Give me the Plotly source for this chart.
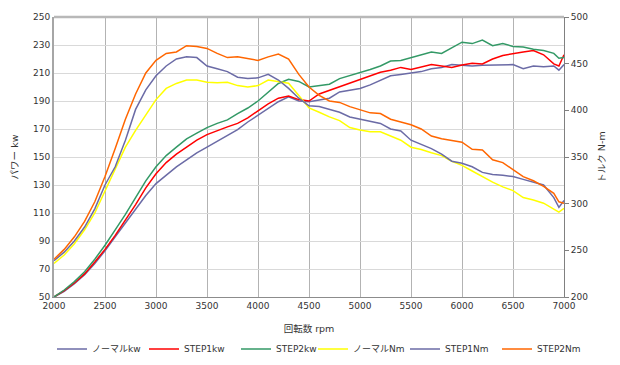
import plotly.graph_objects as go

rpm = [2000, 2100, 2200, 2300, 2400, 2500, 2600, 2700, 2800, 2900,
       3000, 3100, 3200, 3300, 3400, 3500, 3600, 3700, 3800, 3900,
       4000, 4100, 4200, 4300, 4400, 4500, 4600, 4700, 4800, 4900,
       5000, 5100, 5200, 5300, 5400, 5500, 5600, 5700, 5800, 5900,
       6000, 6100, 6200, 6300, 6400, 6500, 6600, 6700, 6800, 6900,
       6950, 7000]

normal_kw = [50, 54, 59.5, 66, 74, 83, 93, 103, 113, 122.5,
             131, 137, 143, 148, 153, 157, 161, 165, 169.5, 175,
             180, 185, 189.5, 193, 190, 189.5, 190.5, 192, 196.5, 198,
             199, 201.5, 205, 208, 209, 210, 211, 213, 214, 216,
             215.5, 215, 215.5, 215.5, 215.7, 216, 213, 215, 214.5, 215,
             212, 216]

step1_kw = [50, 54.5, 60, 66.5, 75, 84, 94, 105, 116, 128,
            138, 146, 152, 157, 162, 166, 169, 171.5, 174, 178,
            183, 188, 192, 193.5, 191, 190, 195, 197.5, 200, 203,
            205, 208, 210.5, 212, 214, 212.5, 214.5, 216, 215, 214,
            215.7, 217, 216.5, 220, 222.5, 224, 225, 226, 223, 216.5,
            215, 223]

step2_kw = [50, 55, 61, 68, 77, 87, 98, 109, 121, 133,
            143, 151, 157, 163, 167, 171, 174, 176.5, 181, 185,
            190, 196, 202.5, 205.5, 204, 200, 201, 202, 206, 208,
            210, 212.5, 215, 218.5, 219, 221, 223, 225, 224, 228,
            232, 231, 233.5, 229.5, 231, 229, 228.5, 227, 226, 224,
            220.5, 221]

normal_nm = [236, 245, 257, 272, 290, 314, 338, 360.5, 378.5, 395,
             411.5, 423.5, 428.8, 432.5, 432.5, 430, 429.5, 430, 426.5, 425,
             426.5, 432.5, 431, 429, 416, 402.5, 398, 393, 389, 381.5,
             379, 377, 377, 372.5, 368, 360.5, 358, 354.5, 351.5, 345.5,
             341, 335, 329, 323, 318, 314, 306.5, 304, 300.5, 294.5,
             291, 295]

step1_nm = [239, 248, 260, 275, 294.5, 320, 339.5, 368, 401, 422,
            437, 447.5, 455, 457.3, 456.5, 447.5, 444.5, 441.5, 435.5, 434,
            434.8, 438.5, 432.5, 423.5, 413, 404.8, 404, 401, 398, 392.8,
            390.5, 388.3, 386, 380, 377.8, 368, 363.5, 359, 353, 345.5,
            343.3, 339.5, 333.5, 331.3, 330.5, 329, 326, 323, 320, 306.5,
            296, 303.5]

step2_nm = [240.5, 251, 264.5, 281, 302, 329, 359, 390.5, 417.5, 440,
            453.5, 461, 462.5, 469.3, 468.5, 466.3, 461, 456.5, 457.3, 455,
            453.5, 457.3, 460.3, 455, 438.5, 425, 416, 410, 408.5, 404,
            401, 397.3, 396.5, 390.5, 387.5, 384.5, 380, 372.5, 369.5, 368,
            365.8, 358.3, 357.5, 347, 344, 336.5, 329, 324.5, 318.5, 311,
            302, 300.5]

series = [
    ("ノーマルkw", normal_kw, "y", "#6b6ba6", "legend"),
    ("STEP1kw", step1_kw, "y", "#ff0000", "legend"),
    ("STEP2kw", step2_kw, "y", "#339966", "legend"),
    ("ノーマルNm", normal_nm, "y2", "#ffff00", "legend2"),
    ("STEP1Nm", step1_nm, "y2", "#6b6ba6", "legend2"),
    ("STEP2Nm", step2_nm, "y2", "#ff6600", "legend2"),
]

FONT = "DejaVu Sans, Verdana, Noto Sans CJK JP, sans-serif"

fig = go.Figure()
for name, vals, ax, col, lg in series:
    fig.add_trace(go.Scatter(x=rpm, y=vals, name=name, yaxis=ax, mode="lines",
                             legend=lg, line=dict(color=col, width=1.5)))

legend_common = dict(orientation="h", xref="container", yref="container",
                     xanchor="left", y=0.044, yanchor="middle",
                     font=dict(size=9), itemwidth=30, tracegroupgap=0,
                     entrywidth=47, entrywidthmode="pixels",
                     bgcolor="rgba(0,0,0,0)")

fig.update_layout(
    width=620, height=365,
    margin=dict(l=54, r=56, t=17, b=68, autoexpand=False),
    paper_bgcolor="white", plot_bgcolor="white",
    font=dict(family=FONT, size=9, color="#333333"),
    xaxis=dict(range=[2000, 7000], dtick=500, tick0=2000, automargin=False,
               showgrid=True, gridcolor="#b3b3b3", gridwidth=1,
               showline=True, linecolor="#8c8c8c", linewidth=1,
               ticks="", zeroline=False,
               title=dict(text="回転数 rpm", font=dict(size=9.5), standoff=17)),
    yaxis=dict(range=[50, 250], dtick=20, tick0=50, automargin=False,
               showgrid=True, gridcolor="#d9d9d9", gridwidth=1,
               showline=True, linecolor="#a6a6a6", linewidth=2,
               ticks="", zeroline=False,
               title=dict(text="パワー kw", font=dict(size=9.5), standoff=13)),
    yaxis2=dict(range=[200, 500], dtick=50, tick0=200, overlaying="y", side="right",
                automargin=False,
                showgrid=False, showline=True, linecolor="#808080", linewidth=1,
                ticks="outside", ticklen=4, tickcolor="#808080", zeroline=False,
                title=dict(text="トルク N-m", font=dict(size=9.5), standoff=11)),
    legend=dict(legend_common, x=52 / 620),
    legend2=dict(legend_common, x=(52 + 3 * 87) / 620),
    shapes=[dict(type="line", xref="paper", yref="paper", x0=0, x1=1, y0=1, y1=1,
                 line=dict(color="#b8b8b8", width=2.5), layer="above")],
    showlegend=True,
)

fig.write_html("out.html", config={"displayModeBar": False},
               post_script="document.body.style.margin='0px';")
